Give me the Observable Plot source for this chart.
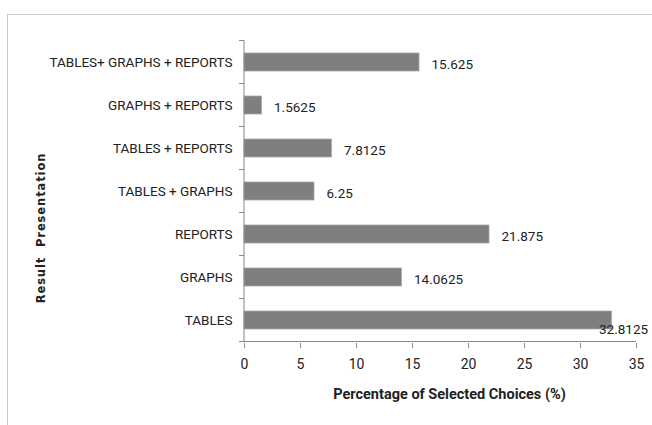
<!DOCTYPE html>
<html>
<head>
<meta charset="utf-8">
<script src="https://cdn.jsdelivr.net/npm/d3@7"></script>
<script src="https://cdn.jsdelivr.net/npm/@observablehq/plot@0.6"></script>
<style>
  html, body { margin: 0; padding: 0; background: #fff; }
  #wrap { position: relative; width: 652px; height: 425px; overflow: hidden; }
  #frame { position: absolute; left: 7px; top: 14px; width: 660px; height: 420px;
           border-left: 1px solid #c8c8c8; border-top: 1px solid #c8c8c8; }
  #chart { position: absolute; left: 0; top: 0; }
</style>
</head>
<body>
<div id="wrap"><div id="frame"></div><div id="chart"></div></div>
<script>
const categories = ["TABLES+ GRAPHS + REPORTS", "GRAPHS + REPORTS", "TABLES + REPORTS", "TABLES + GRAPHS", "REPORTS", "GRAPHS", "TABLES"];
const values = [15.625, 1.5625, 7.8125, 6.25, 21.875, 14.0625, 32.8125];
const valueLabels = ["15.625", "1.5625", "7.8125", "6.25", "21.875", "14.0625", "32.8125"];
const xTicks = [0, 5, 10, 15, 20, 25, 30, 35];
const xTitle = "Percentage of Selected Choices (%)";
const yTitle = "Result  Presentation";

const data = categories.map((c, i) => ({cat: c, value: values[i], label: valueLabels[i]}));
const font = "Roboto, 'Open Sans', sans-serif";
const pad = 0.58;

const plot = Plot.plot({
  width: 652,
  height: 425,
  marginLeft: 244,
  marginRight: 16,
  marginTop: 40,
  marginBottom: 82,
  style: {fontFamily: font, fontSize: "13.5px", color: "#222", background: "transparent"},
  x: {domain: [0, 35]},
  y: {domain: categories, paddingInner: pad, paddingOuter: pad / 2},
  marks: [
    Plot.barX(data, {x: "value", y: "cat", fill: "#7f7f7f", stroke: "#a8a8a8", strokeWidth: 0.8}),
    Plot.text(data.filter(d => d.cat !== "TABLES"), {x: "value", y: "cat", text: "label", textAnchor: "start", dx: 12, dy: 2, fill: "#222", fontSize: 13.5}),
    Plot.text(data.filter(d => d.cat === "TABLES"), {x: "value", y: "cat", text: "label", textAnchor: "start", dx: -13, dy: 9, fill: "#222", fontSize: 13.5}),
    Plot.axisY({tickSize: 0, tickPadding: 12, label: null, fontSize: 13.5}),
    Plot.axisX({ticks: xTicks, tickFormat: d => String(d), tickSize: 5, tickPadding: 11, label: null, stroke: "#888", fontSize: 14}),
    Plot.text([xTitle], {frameAnchor: "bottom", dy: 55, dx: 9, text: d => d, fontWeight: "bold", fontSize: 14.5, fill: "#222"})
  ]
});

document.getElementById("chart").appendChild(plot);

// Excel-style boundary ticks on the category axis and the axis lines, using the plot's scales
const svg = d3.select(plot);
const ys = plot.scale("y");
const xs = plot.scale("x");
const x0 = xs.apply(0);
const starts = categories.map(c => ys.apply(c));
const step = Math.abs(starts[1] - starts[0]);
const firstB = Math.min(...starts) - (step - ys.bandwidth) / 2;
const bounds = [];
for (let i = 0; i <= categories.length; i++) bounds.push(firstB + i * step);
const g = svg.append("g").attr("stroke", "#888");
bounds.forEach(b => g.append("line").attr("x1", x0 - 5).attr("x2", x0).attr("y1", b).attr("y2", b));
g.append("line").attr("x1", x0).attr("x2", xs.apply(35)).attr("y1", bounds[bounds.length - 1]).attr("y2", bounds[bounds.length - 1]);
g.append("line").attr("x1", x0).attr("x2", x0).attr("y1", bounds[0]).attr("y2", bounds[bounds.length - 1]);

// rotated y title
svg.append("text")
  .attr("transform", `translate(45, 228) rotate(-90)`)
  .attr("text-anchor", "middle")
  .attr("font-family", "'DejaVu Sans', sans-serif")
  .attr("font-weight", "bold")
  .attr("font-size", 11.5)
  .attr("letter-spacing", "0.9px")
  .attr("fill", "#222")
  .style("white-space", "pre")
  .text(yTitle);
</script>
</body>
</html>
